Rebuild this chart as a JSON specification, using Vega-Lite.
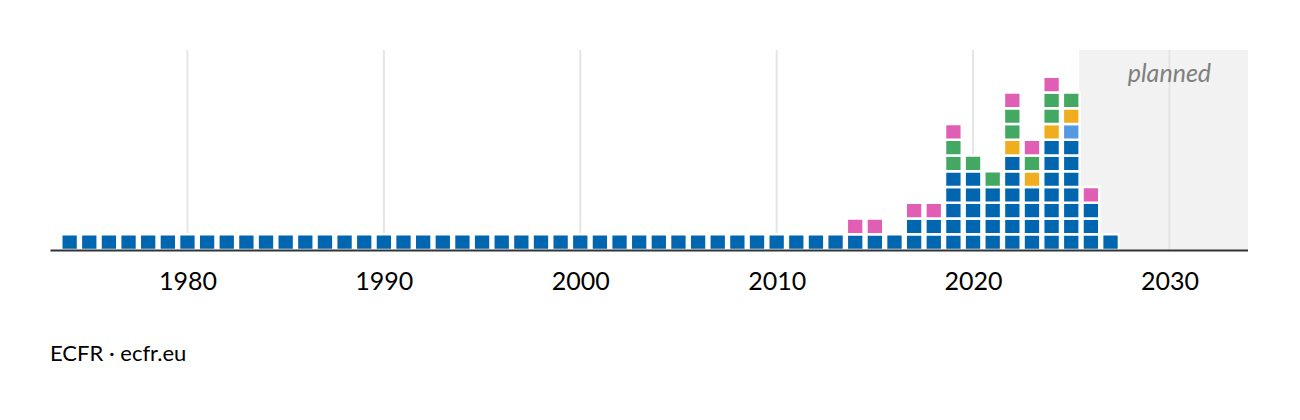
{
  "$schema": "https://vega.github.io/schema/vega-lite/v6.json",
  "width": 1198,
  "height": 200,
  "padding": {"left": 50, "top": 49, "right": 0, "bottom": 0},
  "background": "white",
  "config": {
    "view": {"stroke": null},
    "font": "Lato",
    "axisX": {
      "format": "d",
      "title": null,
      "grid": false,
      "ticks": false,
      "domainColor": "#333333",
      "domainWidth": 2,
      "labelFontSize": 25,
      "labelColor": "#000000",
      "labelPadding": 19,
      "labelFlush": false,
      "zindex": 1
    }
  },
  "title": {
    "text": "ECFR · ecfr.eu",
    "orient": "bottom",
    "anchor": "start",
    "frame": "group",
    "fontSize": 22,
    "fontWeight": "normal",
    "color": "#000000",
    "offset": 50
  },
  "layer": [
    {
      "data": {"values": [{"from": 2025.4, "to": 2034}]},
      "mark": {"type": "rect", "color": "#f2f2f2"},
      "encoding": {
        "x": {
          "field": "from",
          "type": "quantitative",
          "title": null,
          "scale": {"domain": [1973, 2034], "nice": false, "zero": false, "padding": 0},
          "axis": {"values": [1980, 1990, 2000, 2010, 2020, 2030], "format": "d", "title": null, "zindex": 1}
        },
        "x2": {"field": "to"}
      }
    },
    {
      "data": {"values": [{"year": 1980}, {"year": 1990}, {"year": 2000}, {"year": 2010}, {"year": 2020}, {"year": 2030}]},
      "mark": {"type": "rule", "color": "#e5e5e5", "strokeWidth": 2},
      "encoding": {
        "x": {"field": "year", "type": "quantitative", "title": null}
      }
    },
    {
      "data": {
        "values": [
          {"year": 1974, "type": "a"}, {"year": 1975, "type": "a"}, {"year": 1976, "type": "a"}, {"year": 1977, "type": "a"},
          {"year": 1978, "type": "a"}, {"year": 1979, "type": "a"}, {"year": 1980, "type": "a"}, {"year": 1981, "type": "a"},
          {"year": 1982, "type": "a"}, {"year": 1983, "type": "a"}, {"year": 1984, "type": "a"}, {"year": 1985, "type": "a"},
          {"year": 1986, "type": "a"}, {"year": 1987, "type": "a"}, {"year": 1988, "type": "a"}, {"year": 1989, "type": "a"},
          {"year": 1990, "type": "a"}, {"year": 1991, "type": "a"}, {"year": 1992, "type": "a"}, {"year": 1993, "type": "a"},
          {"year": 1994, "type": "a"}, {"year": 1995, "type": "a"}, {"year": 1996, "type": "a"}, {"year": 1997, "type": "a"},
          {"year": 1998, "type": "a"}, {"year": 1999, "type": "a"}, {"year": 2000, "type": "a"}, {"year": 2001, "type": "a"},
          {"year": 2002, "type": "a"}, {"year": 2003, "type": "a"}, {"year": 2004, "type": "a"}, {"year": 2005, "type": "a"},
          {"year": 2006, "type": "a"}, {"year": 2007, "type": "a"}, {"year": 2008, "type": "a"}, {"year": 2009, "type": "a"},
          {"year": 2010, "type": "a"}, {"year": 2011, "type": "a"}, {"year": 2012, "type": "a"}, {"year": 2013, "type": "a"},
          {"year": 2014, "type": "a"}, {"year": 2014, "type": "e"},
          {"year": 2015, "type": "a"}, {"year": 2015, "type": "e"},
          {"year": 2016, "type": "a"},
          {"year": 2017, "type": "a"}, {"year": 2017, "type": "a"}, {"year": 2017, "type": "e"},
          {"year": 2018, "type": "a"}, {"year": 2018, "type": "a"}, {"year": 2018, "type": "e"},
          {"year": 2019, "type": "a"}, {"year": 2019, "type": "a"}, {"year": 2019, "type": "a"}, {"year": 2019, "type": "a"},
          {"year": 2019, "type": "a"}, {"year": 2019, "type": "d"}, {"year": 2019, "type": "d"}, {"year": 2019, "type": "e"},
          {"year": 2020, "type": "a"}, {"year": 2020, "type": "a"}, {"year": 2020, "type": "a"}, {"year": 2020, "type": "a"},
          {"year": 2020, "type": "a"}, {"year": 2020, "type": "d"},
          {"year": 2021, "type": "a"}, {"year": 2021, "type": "a"}, {"year": 2021, "type": "a"}, {"year": 2021, "type": "a"},
          {"year": 2021, "type": "d"},
          {"year": 2022, "type": "a"}, {"year": 2022, "type": "a"}, {"year": 2022, "type": "a"}, {"year": 2022, "type": "a"},
          {"year": 2022, "type": "a"}, {"year": 2022, "type": "a"}, {"year": 2022, "type": "c"}, {"year": 2022, "type": "d"},
          {"year": 2022, "type": "d"}, {"year": 2022, "type": "e"},
          {"year": 2023, "type": "a"}, {"year": 2023, "type": "a"}, {"year": 2023, "type": "a"}, {"year": 2023, "type": "a"},
          {"year": 2023, "type": "c"}, {"year": 2023, "type": "d"}, {"year": 2023, "type": "e"},
          {"year": 2024, "type": "a"}, {"year": 2024, "type": "a"}, {"year": 2024, "type": "a"}, {"year": 2024, "type": "a"},
          {"year": 2024, "type": "a"}, {"year": 2024, "type": "a"}, {"year": 2024, "type": "a"}, {"year": 2024, "type": "c"},
          {"year": 2024, "type": "d"}, {"year": 2024, "type": "d"}, {"year": 2024, "type": "e"},
          {"year": 2025, "type": "a"}, {"year": 2025, "type": "a"}, {"year": 2025, "type": "a"}, {"year": 2025, "type": "a"},
          {"year": 2025, "type": "a"}, {"year": 2025, "type": "a"}, {"year": 2025, "type": "a"}, {"year": 2025, "type": "b"},
          {"year": 2025, "type": "c"}, {"year": 2025, "type": "d"},
          {"year": 2026, "type": "a"}, {"year": 2026, "type": "a"}, {"year": 2026, "type": "a"}, {"year": 2026, "type": "e"},
          {"year": 2027, "type": "a"}
        ]
      },
      "transform": [
        {
          "window": [{"op": "row_number", "as": "k"}],
          "groupby": ["year"],
          "sort": [{"field": "type", "order": "ascending"}]
        },
        {
          "joinaggregate": [{"op": "count", "as": "unit"}],
          "groupby": ["year", "k"]
        },
        {
          "stack": "unit",
          "groupby": ["year"],
          "sort": [{"field": "k", "order": "ascending"}],
          "as": ["lo", "hi"]
        }
      ],
      "mark": {"type": "bar", "width": 16.7, "stroke": "white", "strokeWidth": 2.4},
      "encoding": {
        "x": {
          "field": "year",
          "type": "quantitative",
          "title": null,
          "axis": {"values": [1980, 1990, 2000, 2010, 2020, 2030], "format": "d", "title": null, "zindex": 1}
        },
        "y": {
          "field": "lo",
          "type": "quantitative",
          "scale": {"domain": [0, 12.7], "nice": false, "padding": 0},
          "axis": null
        },
        "y2": {"field": "hi"},
        "color": {
          "field": "type",
          "type": "nominal",
          "scale": {
            "domain": ["a", "b", "c", "d", "e"],
            "range": ["#0066b0", "#5599e2", "#f0ad1e", "#43a862", "#e05fb5"]
          },
          "legend": null
        }
      }
    },
    {
      "data": {"values": [{"label": "planned"}]},
      "mark": {"type": "text", "fontSize": 25, "fontStyle": "italic", "color": "#7f7f7f", "baseline": "middle", "align": "center"},
      "encoding": {
        "x": {"datum": 2030, "type": "quantitative", "title": null},
        "y": {"datum": 11.2, "type": "quantitative"},
        "text": {"field": "label"}
      }
    }
  ]
}
